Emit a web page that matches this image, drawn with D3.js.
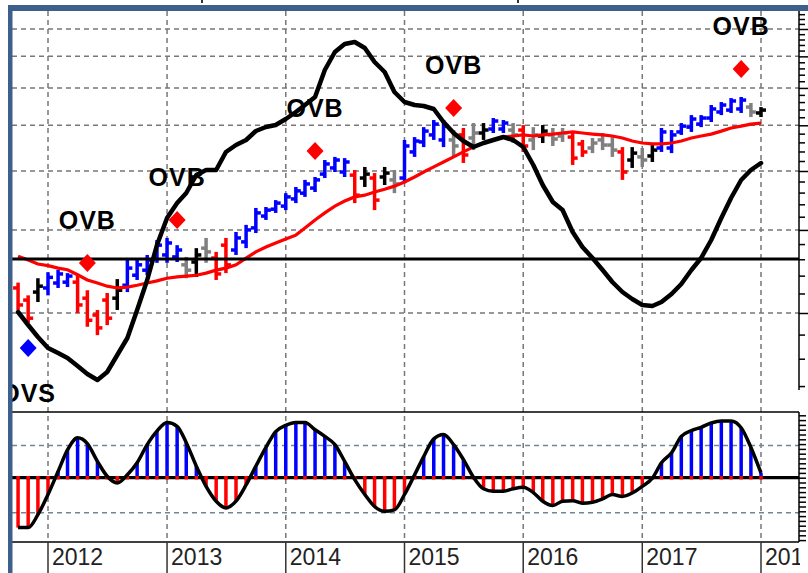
<!DOCTYPE html>
<html>
<head>
<meta charset="utf-8">
<script src="https://cdn.jsdelivr.net/npm/d3@7"></script>
<style>
html, body { margin: 0; padding: 0; background: #fff; }
svg { display: block; font-family: Arial, "Liberation Sans", sans-serif; }
</style>
</head>
<body>
<div id="chart"></div>
<script>
// monthly bars, Oct 2011 .. Jan 2018
const months = d3.timeMonth.range(new Date(2011, 9, 1), new Date(2018, 1, 1));

const open = [226, 213, 221.5, 226, 231.5, 232.5, 232.5, 215, 198, 213, 215, 229, 240.5, 246.5, 261.5, 265.5, 263, 253, 256.5, 274.5,
    261.5, 278.5, 272, 283, 303, 321, 332, 337, 349, 359, 368, 394, 406, 398, 392, 386.5, 386.5, 388.5, 383, 386.5,
    439, 461, 477, 465.5, 465.5, 477, 470, 481.5, 491, 491, 488.5, 488.5, 465.5, 474.5, 477, 474.5, 472, 456.5, 447.5, 465.5,
    454, 439, 422, 428.5, 430.5, 447.5, 447.5, 484, 495.5, 503, 518, 533.5, 538.5, 541.5, 546.5, 531];
const high = [232, 218, 237, 244, 247, 243, 240.5, 223.5, 203, 220.5, 236, 259, 259, 265.5, 285.5, 288.5, 278.5, 263, 274.5, 288.5,
    269.5, 288.5, 297, 307.5, 334, 335.5, 347, 359, 370, 383, 388.5, 422, 428.5, 426, 402, 408, 396, 408, 402, 465.5,
    472, 495.5, 513, 513, 488.5, 493.5, 505.5, 505.5, 518, 513, 505.5, 500.5, 495.5, 500.5, 493.5, 493.5, 484, 465.5, 470, 481.5,
    472, 449.5, 449.5, 447.5, 454, 493.5, 488.5, 505.5, 525.5, 525.5, 552, 560, 571, 574, 557.5, 546.5];
const low = [203, 190.5, 211, 218, 226, 227, 200, 187, 179.5, 188.5, 203, 221.5, 235, 240.5, 255.5, 255.5, 256.5, 237, 238.5, 255.5,
    235, 243, 265.5, 274.5, 295.5, 315, 326, 330.5, 342, 352.5, 361, 386.5, 398, 388.5, 342, 370, 330.5, 373.5, 359, 377,
    428.5, 449.5, 465.5, 449.5, 428.5, 416, 443, 465.5, 481.5, 481.5, 458.5, 439, 443, 458.5, 452, 461, 412, 428.5, 436.5, 443,
    428.5, 383, 406, 408, 418, 439, 436.5, 477, 484, 495.5, 508, 525.5, 531, 531, 520.5, 520.5];
const close = [208, 195, 228, 238, 242, 239.5, 208, 193, 186, 195, 223.5, 249, 253, 259, 278.5, 281.5, 272, 246.5, 265.5, 269.5,
    242, 253, 288.5, 300, 326, 330.5, 342, 352.5, 363, 375.5, 383, 414, 422, 418, 355.5, 394, 347, 396, 375.5, 452,
    463, 486, 503, 498, 452, 432.5, 481.5, 488.5, 510.5, 505.5, 477, 452, 477, 486, 467.5, 481.5, 426, 439, 458.5, 454,
    443, 398, 436.5, 422, 443, 484, 477, 498, 515.5, 518, 541.5, 552, 563, 565.5, 533.5, 538.5];
// u = up (blue), d = down (red), n = neutral (black), g = gray
const tone = ('ddn' + 'uuuddddnuu' + 'uuuugngddu' + 'uuuuuuuuuu' + 'udndnguuuu' +
    'ugdgnuugdg' + 'nggddgggdn' + 'gnuuuuuuuu' + 'ugn').split('');

const avg = [264, 259, 254, 252, 249, 247, 241, 235, 231.5, 228, 226, 227, 229, 231.5, 234, 237, 238.5, 239.5, 240.5, 243,
    246.5, 249, 253, 261.5, 269.5, 276, 281.5, 287, 292.5, 303, 315, 326, 337, 345.5, 352.5, 355.5, 361, 366, 371.5, 379,
    388.5, 398, 408, 418, 428.5, 439, 450, 458.5, 465.5, 472, 474.5, 477, 474.5, 477, 479, 481.5, 484, 481.5, 479, 477,
    474.5, 470, 463, 458.5, 456.5, 456.5, 458.5, 463, 470, 474.5, 479, 486, 493.5, 498, 503, 505.5];

const osc = [-5.3, -6.6, -7.8, -8.9, -9.4, -9.9, -10.7, -11.5, -12.1, -11.3, -9.6, -7.9, -5.1, -2.1, 1.4, 4.1, 5.6, 6.6, 8.4, 8.9,
    8.9, 10.7, 11.4, 11.9, 12.8, 13.2, 13.4, 14.0, 14.7, 15.4, 16.2, 18.9, 20.7, 21.5, 21.7, 21.1, 19.7, 18.7, 16.7, 15.7,
    15.4, 15.3, 15.0, 13.7, 12.6, 11.8, 11.2, 11.6, 11.9, 12.2, 11.9, 11.2, 9.4, 7.4, 5.7, 4.9, 2.7, 1.2, 0.1, -1.1,
    -2.3, -3.3, -4.0, -4.6, -4.7, -4.3, -3.5, -2.5, -1.1, 0.1, 1.9, 4.1, 6.1, 7.9, 8.9, 9.6];

const hist = [-10.4, -10.4, -7.7, -3.5, 1.3, 5.8, 8.3, 7.1, 3.4, 0.3, -1.1, 0.6, 3.1, 6.9, 9.7, 11.5, 10.7, 7.3, 2.4, -1.8,
    -4.9, -6.3, -4.9, -1.5, 2.4, 6.3, 9.6, 10.9, 11.5, 11.5, 10.0, 8.6, 6.9, 3.4, -0.4, -3.5, -6.0, -7.0, -6.7, -3.5,
    0.6, 4.4, 8.1, 9.0, 6.9, 3.8, 0.1, -2.3, -2.8, -2.8, -2.3, -2.0, -3.1, -4.9, -5.8, -4.9, -4.8, -5.3, -5.1, -4.4,
    -3.5, -3.9, -3.2, -1.8, -0.1, 3.1, 5.2, 8.6, 9.8, 10.5, 11.4, 11.8, 11.8, 10.4, 6.3, 1.0];

// signals: index into months, price of diamond, label
const signalIdx = [1, 7, 16, 30, 44, 73];
const signalPrice = [168.6, 255.3, 315, 441, 544, 658];
const signalLabel = ['OVS', 'OVB', 'OVB', 'OVB', 'OVB', 'OVB'];

const years = [2012, 2013, 2014, 2015, 2016, 2017, 2018];
const priceGrid = [200, 300, 400, 500, 600, 700, 800];
const priceTicks = d3.range(140, 861, 20);
const histGrid = [6.7, -7.3];
const histTicks = d3.range(-13, 14, 1);

const W = 808, H = 573;
const left = 12, right = 799;
const upTop = 11, upBottom = 390, lowTop = 412, lowBottom = 542;

const toneColor = { u: '#0000ff', d: '#ff0000', n: '#000000', g: '#808080' };

const x = d3.scaleTime()
    .domain([new Date(2012, 0, 1), new Date(2018, 0, 1)])
    .range([48, 761]);
const priceY = d3.scaleLog().domain([200, 800]).range([313, 29]);
const oscY = d3.scaleLinear().domain([0, 10]).range([259, 159]);
const histY = d3.scaleLinear().domain([0, 10]).range([477.7, 429.7]);

const svg = d3.select('#chart').append('svg')
    .attr('width', W)
    .attr('height', H);

svg.append('rect').attr('width', W).attr('height', H).attr('fill', '#fff');

const defs = svg.append('defs');
defs.append('clipPath').attr('id', 'clipUp')
    .append('rect').attr('x', left).attr('y', upTop).attr('width', right - left).attr('height', lowTop - upTop);
defs.append('clipPath').attr('id', 'clipLow')
    .append('rect').attr('x', left).attr('y', lowTop).attr('width', right - left).attr('height', lowBottom - lowTop);
defs.append('clipPath').attr('id', 'clipLab')
    .append('rect').attr('x', left).attr('y', lowBottom).attr('width', 800 - left).attr('height', H - lowBottom);

// grid
const grid = svg.append('g');
grid.selectAll('.vg').data(years).join('line')
    .attr('x1', d => x(new Date(d, 0, 1))).attr('x2', d => x(new Date(d, 0, 1)))
    .attr('y1', upTop).attr('y2', lowBottom)
    .attr('stroke', '#777').attr('stroke-width', 1.5).attr('stroke-dasharray', '5,4');
grid.selectAll('.hg').data(priceGrid).join('line')
    .attr('x1', left).attr('x2', right)
    .attr('y1', d => priceY(d)).attr('y2', d => priceY(d))
    .attr('stroke', '#777').attr('stroke-width', 1.5).attr('stroke-dasharray', '5,4');
grid.selectAll('.lg').data(histGrid).join('line')
    .attr('x1', left).attr('x2', right)
    .attr('y1', d => histY(d)).attr('y2', d => histY(d))
    .attr('stroke', '#708696').attr('stroke-width', 1.5).attr('stroke-dasharray', '5,4');

// upper panel
const up = svg.append('g').attr('clip-path', 'url(#clipUp)');
const bars = months.map((m, i) => ({ date: m, o: open[i], h: high[i], l: low[i], c: close[i], t: tone[i] }));

const bar = up.selectAll('.bar').data(bars).join('g')
    .attr('stroke', d => toneColor[d.t])
    .attr('stroke-width', 3.5);
bar.append('line')
    .attr('x1', d => x(d.date)).attr('x2', d => x(d.date))
    .attr('y1', d => priceY(d.h)).attr('y2', d => priceY(d.l));
bar.append('line')
    .attr('x1', d => x(d.date) - 5).attr('x2', d => x(d.date))
    .attr('y1', d => priceY(d.o)).attr('y2', d => priceY(d.o));
bar.append('line')
    .attr('x1', d => x(d.date)).attr('x2', d => x(d.date) + 5)
    .attr('y1', d => priceY(d.c)).attr('y2', d => priceY(d.c));

up.append('path')
    .datum(months.map((m, i) => [m, avg[i]]))
    .attr('fill', 'none').attr('stroke', '#ff0000').attr('stroke-width', 3.2)
    .attr('d', d3.line().x(d => x(d[0])).y(d => priceY(d[1])));

up.append('line')
    .attr('x1', left).attr('x2', right)
    .attr('y1', oscY(0)).attr('y2', oscY(0))
    .attr('stroke', '#000').attr('stroke-width', 3.2);

up.append('path')
    .datum(months.map((m, i) => [m, osc[i]]))
    .attr('fill', 'none').attr('stroke', '#000').attr('stroke-width', 4.5)
    .attr('stroke-linejoin', 'round').attr('stroke-linecap', 'round')
    .attr('d', d3.line().x(d => x(d[0])).y(d => oscY(d[1])));

// signals
const sig = svg.append('g').attr('clip-path', 'url(#clipUp)');
const signals = signalIdx.map((k, i) => ({ date: months[k], p: signalPrice[i], label: signalLabel[i] }));
sig.selectAll('.dia').data(signals).join('path')
    .attr('transform', d => `translate(${x(d.date)},${priceY(d.p)})`)
    .attr('d', 'M0,-9L8.5,0L0,9L-8.5,0Z')
    .attr('fill', d => d.label === 'OVS' ? '#0000ff' : '#ff0000');
sig.selectAll('.lab').data(signals).join('text')
    .attr('x', d => x(d.date))
    .attr('y', d => priceY(d.p) + (d.label === 'OVS' ? 54 : -34))
    .attr('text-anchor', 'middle')
    .attr('font-size', 25).attr('font-weight', 'bold')
    .attr('letter-spacing', 1)
    .attr('fill', '#000')
    .text(d => d.label);

// lower panel
const lowPanel = svg.append('g').attr('clip-path', 'url(#clipLow)');
lowPanel.selectAll('.hb').data(months.map((m, i) => [m, hist[i]])).join('line')
    .attr('x1', d => x(d[0])).attr('x2', d => x(d[0]))
    .attr('y1', histY(0)).attr('y2', d => histY(d[1]))
    .attr('stroke', d => d[1] >= 0 ? '#0000ff' : '#ff0000')
    .attr('stroke-width', 3.5);
lowPanel.append('line')
    .attr('x1', left).attr('x2', right)
    .attr('y1', histY(0)).attr('y2', histY(0))
    .attr('stroke', '#000').attr('stroke-width', 3.2);
lowPanel.selectAll('.hd').data(months).join('rect')
    .attr('x', d => x(d) - 1.75).attr('y', histY(0) - 1.75)
    .attr('width', 3.5).attr('height', 3.5)
    .attr('fill', '#ff0000');
lowPanel.append('path')
    .datum(months.map((m, i) => [m, hist[i]]))
    .attr('fill', 'none').attr('stroke', '#000').attr('stroke-width', 3.5)
    .attr('stroke-linejoin', 'round')
    .attr('d', d3.line().curve(d3.curveMonotoneX).x(d => x(d[0])).y(d => histY(d[1])));

// frame lines
svg.append('line').attr('x1', left).attr('x2', right).attr('y1', lowTop).attr('y2', lowTop)
    .attr('stroke', '#000').attr('stroke-width', 1.5);
svg.append('line').attr('x1', left).attr('x2', right).attr('y1', lowBottom).attr('y2', lowBottom)
    .attr('stroke', '#000').attr('stroke-width', 1.5);

// right axes
const axUp = svg.append('g').attr('transform', `translate(${right},0)`);
axUp.call(d3.axisRight(priceY).tickValues(priceTicks.filter(v => v % 100 !== 0)).tickSize(6).tickFormat(''));
axUp.append('g').call(d3.axisRight(priceY).tickValues(priceGrid).tickSize(9).tickFormat(''));
axUp.selectAll('.domain').remove();
axUp.selectAll('line').attr('stroke', '#000').attr('stroke-width', 1.5);
axUp.append('line').attr('y1', upTop).attr('y2', upBottom).attr('stroke', '#000').attr('stroke-width', 1.5);

const axLow = svg.append('g').attr('transform', `translate(${right},0)`);
axLow.call(d3.axisRight(histY).tickValues(histTicks).tickSize(7).tickFormat(''));
axLow.selectAll('.domain').remove();
axLow.selectAll('line').attr('stroke', '#000').attr('stroke-width', 1.5);
axLow.append('line').attr('y1', lowTop).attr('y2', lowBottom).attr('stroke', '#000').attr('stroke-width', 1.5);

// bottom year axis
const xa = svg.append('g').attr('clip-path', 'url(#clipLab)');
xa.selectAll('.yt').data(years).join('line')
    .attr('x1', d => x(new Date(d, 0, 1))).attr('x2', d => x(new Date(d, 0, 1)))
    .attr('y1', lowBottom).attr('y2', H)
    .attr('stroke', '#333').attr('stroke-width', 1.5);
xa.selectAll('.yl').data(years).join('text')
    .attr('x', d => x(new Date(d, 0, 1)) + 4)
    .attr('y', 565)
    .attr('font-size', 23)
    .attr('fill', '#222')
    .text(d => d);

// outer border
svg.append('rect').attr('x', 8).attr('y', 5).attr('width', W - 8).attr('height', 6).attr('fill', '#3c5f8c');
svg.append('rect').attr('x', 8).attr('y', 5).attr('width', 4.5).attr('height', H - 5).attr('fill', '#3c5f8c');
svg.selectAll('.tt').data([202, 518]).join('line')
    .attr('x1', d => d).attr('x2', d => d).attr('y1', 0).attr('y2', 3)
    .attr('stroke', '#333').attr('stroke-width', 2);
</script>
</body>
</html>
